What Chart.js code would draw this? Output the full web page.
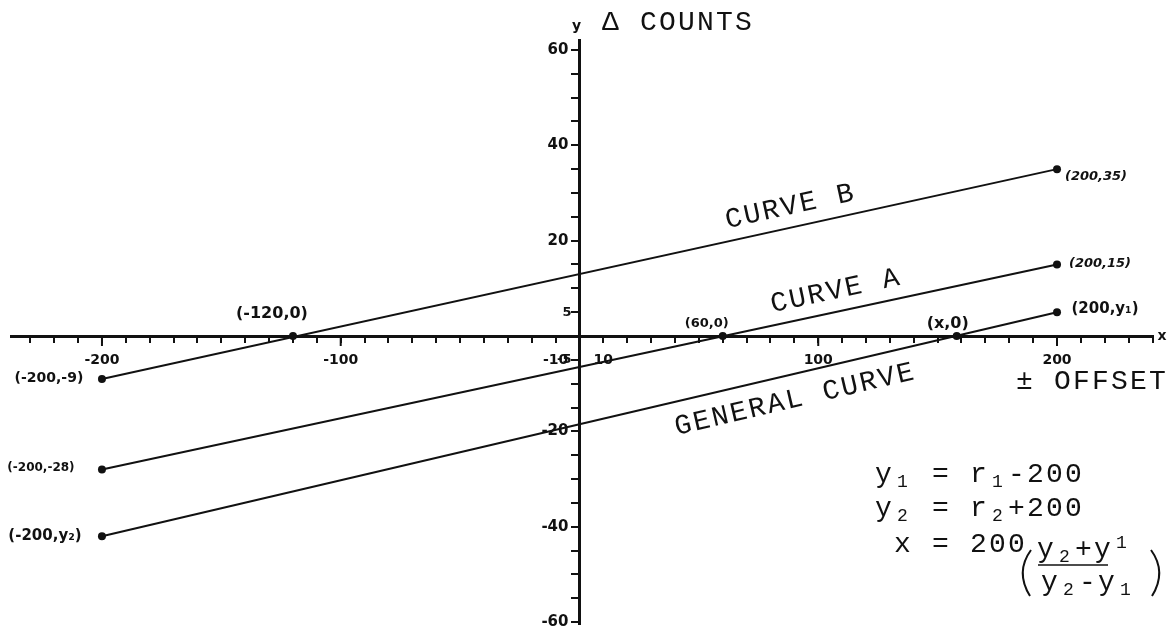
<!DOCTYPE html>
<html>
<head>
<meta charset="utf-8">
<title>Δ Counts vs Offset</title>
<script src="https://cdn.jsdelivr.net/npm/chart.js@4.4.1/dist/chart.umd.min.js"></script>
<style>
  html, body { margin: 0; padding: 0; background: #fff; }
  canvas { display: block; }
</style>
</head>
<body>
<canvas id="myChart" width="1174" height="628"></canvas>
<script>
// end points of each curve, at -200 and +200 offset
const offsets = [-200, 200];
const curveB = [-9, 35];
const curveA = [-28, 15];
const generalCurve = [-42, 5];

// where the curves cut the offset axis
const crossingX = [-120, 60, 158];

const curveNames = ['CURVE B', 'CURVE A', 'GENERAL CURVE'];
const endLabels = [
  ['(-200,-9)', '(200,35)'],
  ['(-200,-28)', '(200,15)'],
  ['(-200,y₂)', '(200,y₁)']
];
const crossingLabels = ['(-120,0)', '(60,0)', '(x,0)'];

const xTickLabels = [-200, -100, -10, 10, 100, 200];
const yTickLabels = [60, 40, 20, 5, -5, -20, -40, -60];

const INK = '#111';
const TYPE = '"Liberation Mono", "DejaVu Sans Mono", monospace';
const HAND = '"DejaVu Sans", sans-serif';
const ADV = 19; // typewriter character pitch

function toPoints(values) {
  return offsets.map((x, i) => ({ x: x, y: values[i] }));
}

function lineSet(label, values) {
  return {
    label: label,
    data: toPoints(values),
    showLine: true,
    borderColor: INK,
    borderWidth: 2,
    pointRadius: 4,
    pointBackgroundColor: INK,
    pointBorderWidth: 0
  };
}

// one typewriter line; mode 1 = subscript, -1 = raised small figure
function typeLine(ctx, parts, x, y) {
  ctx.textAlign = 'center';
  ctx.textBaseline = 'alphabetic';
  parts.forEach(([s, mode]) => {
    for (const ch of s) {
      if (mode === 0) {
        ctx.font = '28px ' + TYPE;
        ctx.fillText(ch, x + ADV / 2, y);
      } else {
        ctx.font = '18px ' + TYPE;
        ctx.fillText(ch, x + ADV / 2, y + (mode > 0 ? 5 : -9));
      }
      x += ADV;
    }
  });
  return x;
}

function handText(ctx, text, cx, cy, size, italic, align) {
  ctx.font = (italic ? 'italic ' : '') + 'bold ' + size + 'px ' + HAND;
  ctx.textAlign = align || 'center';
  ctx.textBaseline = 'middle';
  ctx.fillText(text, cx, cy);
}

// label placement, in pixels from the marks they name
const curveSpots = [
  { at: 88, dy: -21 },
  { at: 107, dy: -21 },
  { at: 90, dy: 26 }
];
const endSpots = [
  [{ dx: -53, dy: -1, size: 14 }, { dx: 39, dy: 7, size: 13, italic: true }],
  [{ dx: -61, dy: -2, size: 12 }, { dx: 43, dy: -1, size: 13, italic: true }],
  [{ dx: -57, dy: 0, size: 15 }, { dx: 48, dy: -3, size: 15 }]
];
const crossingSpots = [
  { dx: -21, dy: -22, size: 16 },
  { dx: -16, dy: -12, size: 13 },
  { dx: -9, dy: -12, size: 16 }
];

const annotations = {
  id: 'annotations',
  afterDraw(chart) {
    const ctx = chart.ctx;
    const { x, y } = chart.scales;
    const x0 = x.getPixelForValue(0);
    const y0 = y.getPixelForValue(0);
    ctx.save();
    ctx.fillStyle = INK;
    ctx.strokeStyle = INK;

    // longer marks at the hundreds
    ctx.lineWidth = 2;
    xTickLabels.filter(v => Math.abs(v) >= 100).forEach(v => {
      const px = x.getPixelForValue(v);
      ctx.beginPath();
      ctx.moveTo(px, y0);
      ctx.lineTo(px, y0 + 10);
      ctx.stroke();
    });

    // count labels, left of the vertical axis
    yTickLabels.forEach(v => {
      const small = Math.abs(v) < 10;
      handText(ctx, String(v), x0 - (small ? 8 : 11), y.getPixelForValue(v), small ? 13 : 15, false, 'right');
    });

    // axis letters
    handText(ctx, 'y', x0 - 3, 26, 14);
    handText(ctx, 'x', 1162, y0, 14);

    // curve names set along each line
    curveNames.forEach((name, i) => {
      const pts = chart.getDatasetMeta(i).data;
      const a = Math.atan2(pts[1].y - pts[0].y, pts[1].x - pts[0].x);
      const px = x.getPixelForValue(curveSpots[i].at);
      const t = (px - pts[0].x) / (pts[1].x - pts[0].x);
      const py = pts[0].y + t * (pts[1].y - pts[0].y) + curveSpots[i].dy;
      ctx.save();
      ctx.translate(px, py);
      ctx.rotate(a);
      ctx.font = '28px ' + TYPE;
      ctx.letterSpacing = '2.2px';
      ctx.textAlign = 'center';
      ctx.textBaseline = 'middle';
      ctx.fillText(name, 1, 0);
      ctx.restore();
    });

    // end point coordinates
    endLabels.forEach((pair, i) => {
      const pts = chart.getDatasetMeta(i).data;
      pair.forEach((txt, j) => {
        const s = endSpots[i][j];
        handText(ctx, txt, pts[j].x + s.dx, pts[j].y + s.dy, s.size, s.italic);
      });
    });

    // axis crossings
    const cross = chart.getDatasetMeta(3).data;
    crossingLabels.forEach((txt, i) => {
      const s = crossingSpots[i];
      handText(ctx, txt, cross[i].x + s.dx, cross[i].y + s.dy, s.size);
    });

    // axis titles
    typeLine(ctx, [['Δ COUNTS', 0]], 601, 30);
    typeLine(ctx, [['± OFFSET', 0]], 1015, 389);

    // relations for the general curve
    typeLine(ctx, [['y', 0], ['1', 1], [' = r', 0], ['1', 1], ['-200', 0]], 874, 482);
    typeLine(ctx, [['y', 0], ['2', 1], [' = r', 0], ['2', 1], ['+200', 0]], 874, 516);
    typeLine(ctx, [[' x = 200', 0]], 874, 552);
    const numEnd = typeLine(ctx, [['y', 0], ['2', 1], ['+', 0], ['y', 0], ['1', -1]], 1036, 557);
    ctx.lineWidth = 1.5;
    ctx.beginPath();
    ctx.moveTo(1038, 565);
    ctx.lineTo(numEnd - ADV - 4, 565);
    ctx.stroke();
    typeLine(ctx, [['y', 0], ['2', 1], ['-', 0], ['y', 0], ['1', 1]], 1040, 590);

    // tall brackets round the fraction
    ctx.lineWidth = 2;
    ctx.beginPath();
    ctx.moveTo(1031, 550);
    ctx.quadraticCurveTo(1015, 572, 1030, 596);
    ctx.moveTo(1151, 550);
    ctx.quadraticCurveTo(1167, 572, 1152, 596);
    ctx.stroke();

    ctx.restore();
  }
};

const ctx = document.getElementById('myChart').getContext('2d');
const myChart = new Chart(ctx, {
  type: 'scatter',
  data: {
    datasets: [
      lineSet(curveNames[0], curveB),
      lineSet(curveNames[1], curveA),
      lineSet(curveNames[2], generalCurve),
      {
        label: 'crossings',
        data: crossingX.map(v => ({ x: v, y: 0 })),
        showLine: false,
        pointRadius: 4,
        pointBackgroundColor: INK,
        pointBorderWidth: 0
      }
    ]
  },
  options: {
    responsive: false,
    animation: false,
    events: [],
    layout: { padding: { left: 11, right: 21.5, top: 40.4, bottom: 0 } },
    plugins: {
      legend: { display: false },
      tooltip: { enabled: false }
    },
    scales: {
      x: {
        type: 'linear',
        min: -238.1,
        max: 240,
        position: { y: 0 },
        afterFit: s => { s.height = 0; },
        border: { display: true, color: INK, width: 3 },
        grid: { drawOnChartArea: false, drawTicks: true, tickLength: 5, color: INK, lineWidth: 2 },
        ticks: {
          stepSize: 10,
          autoSkip: false,
          maxRotation: 0,
          includeBounds: false,
          padding: 11,
          color: INK,
          font: { family: HAND, weight: 'bold', size: 14 },
          callback: v => xTickLabels.includes(v) ? String(v) : ''
        }
      },
      y: {
        type: 'linear',
        min: -60.4,
        max: 62,
        position: { x: 0 },
        afterFit: s => { s.width = 0; },
        border: { display: true, color: INK, width: 3 },
        grid: { drawOnChartArea: false, drawTicks: true, tickLength: 7, color: INK, lineWidth: 2 },
        ticks: {
          stepSize: 5,
          autoSkip: false,
          includeBounds: false,
          display: false
        }
      }
    }
  },
  plugins: [annotations]
});
</script>
</body>
</html>
